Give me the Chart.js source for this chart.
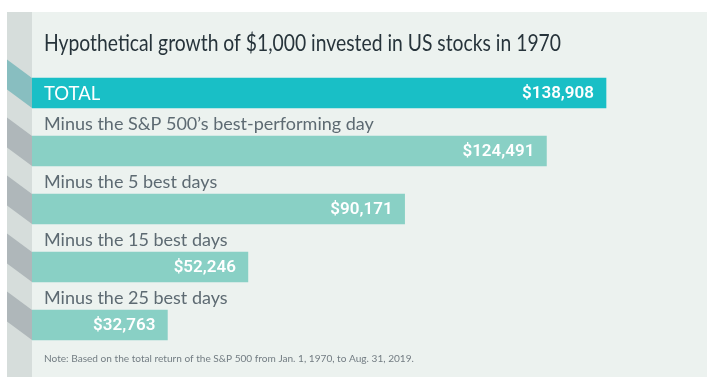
<!DOCTYPE html>
<html>
<head>
<meta charset="utf-8">
<script src="https://cdn.jsdelivr.net/npm/chart.js@4.4.0/dist/chart.umd.min.js"></script>
<style>
html,body{margin:0;padding:0;background:#ffffff;}
canvas{display:block;}
</style>
</head>
<body>
<canvas id="c" width="718" height="383"></canvas>
<script>
const titleText = "Hypothetical growth of $1,000 invested in US stocks in 1970";
const noteText = "Note: Based on the total return of the S&P 500 from Jan. 1, 1970, to Aug. 31, 2019.";
const categories = ["TOTAL", "Minus the S&P 500\u2019s best-performing day", "Minus the 5 best days", "Minus the 15 best days", "Minus the 25 best days"];
const values = [138908, 124491, 90171, 52246, 32763];
const barColors = ["#19bfc6", "#89d0c5", "#89d0c5", "#89d0c5", "#89d0c5"];
const bandColors = ["#88bec0", "#afb7ba", "#afb7ba", "#afb7ba", "#afb7ba"];

const PANEL = {l: 7, t: 12, r: 707, b: 377, strip: 32};

const decor = {
  id: 'decor',
  beforeDraw(chart) {
    const ctx = chart.ctx;
    ctx.save();
    ctx.fillStyle = '#ffffff';
    ctx.fillRect(0, 0, chart.width, chart.height);
    ctx.fillStyle = '#ecf2ef';
    ctx.fillRect(PANEL.l, PANEL.t, PANEL.r - PANEL.l, PANEL.b - PANEL.t);
    ctx.fillStyle = '#d6dddb';
    ctx.fillRect(PANEL.l, PANEL.t, PANEL.strip - PANEL.l, PANEL.b - PANEL.t);
    const meta = chart.getDatasetMeta(0);
    meta.data.forEach((bar, i) => {
      const top = bar.y - bar.height / 2;
      const bot = bar.y + bar.height / 2;
      const off = 18.5;
      ctx.fillStyle = bandColors[i];
      ctx.beginPath();
      ctx.moveTo(PANEL.l, top - off);
      ctx.lineTo(PANEL.strip, top);
      ctx.lineTo(PANEL.strip, bot);
      ctx.lineTo(PANEL.l, bot - off);
      ctx.closePath();
      ctx.fill();
    });
    // title
    ctx.fillStyle = '#27343b';
    ctx.textBaseline = 'alphabetic';
    ctx.textAlign = 'left';
    ctx.font = '24px Lato';
    const w = ctx.measureText(titleText).width;
    const sx = 517 / w;
    ctx.save();
    ctx.translate(44, 51);
    ctx.scale(sx, 1);
    ctx.fillText(titleText, 0, 0);
    ctx.restore();
    // note
    ctx.fillStyle = '#737d83';
    ctx.font = '10.1px Lato';
    ctx.fillText(noteText, 44, 362);
    ctx.restore();
  },
  afterDatasetsDraw(chart) {
    const ctx = chart.ctx;
    const meta = chart.getDatasetMeta(0);
    ctx.save();
    meta.data.forEach((bar, i) => {
      const top = bar.y - bar.height / 2;
      if (i === 0) {
        ctx.fillStyle = '#ffffff';
        ctx.font = '18.5px Lato';
        ctx.textAlign = 'left';
        ctx.textBaseline = 'middle';
        ctx.fillText(categories[i], 44, bar.y + 1);
      } else {
        ctx.fillStyle = '#5d6a72';
        ctx.font = '18px Lato';
        ctx.textAlign = 'left';
        ctx.textBaseline = 'alphabetic';
        ctx.fillText(categories[i], 44, top - 6);
      }
      ctx.fillStyle = '#ffffff';
      ctx.font = '600 17px Roboto';
      ctx.textAlign = 'right';
      ctx.textBaseline = 'middle';
      ctx.fillText('$' + values[i].toLocaleString('en-US'), bar.x - 12, bar.y + 1);
    });
    ctx.restore();
  }
};

new Chart(document.getElementById('c'), {
  type: 'bar',
  data: {
    labels: categories,
    datasets: [{
      data: values,
      backgroundColor: barColors,
      borderWidth: 0,
      barThickness: 30
    }]
  },
  options: {
    indexAxis: 'y',
    responsive: false,
    animation: false,
    layout: {padding: {left: 32, right: 11, top: 64, bottom: 29}},
    plugins: {legend: {display: false}, tooltip: {enabled: false}},
    scales: {
      x: {display: false, min: 0, max: 163350},
      y: {display: false}
    }
  },
  plugins: [decor]
});
</script>
</body>
</html>
